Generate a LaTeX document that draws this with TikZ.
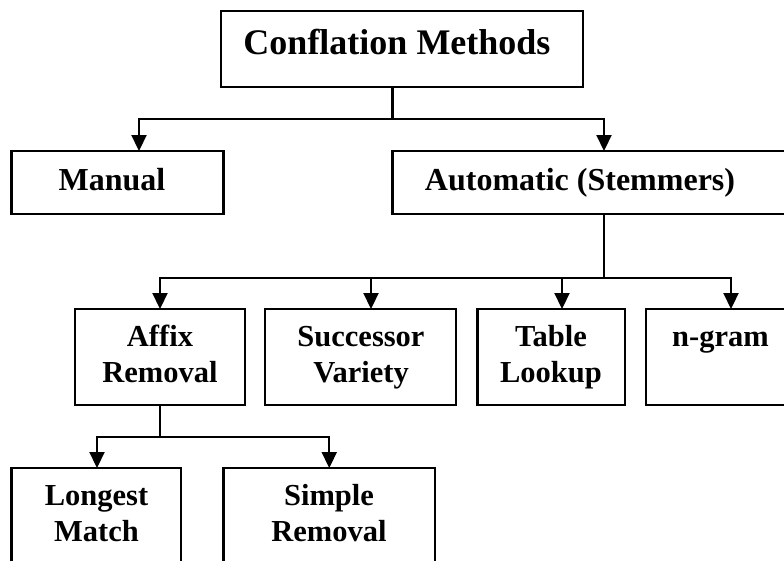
\documentclass[tikz,border=0pt]{standalone}
\usepackage{fontspec}
\setmainfont{Liberation Serif}
\usetikzlibrary{arrows.meta}
\begin{document}
\begin{tikzpicture}[x=1pt,y=-1pt,
  box/.style={draw=black, line width=2.2pt, rectangle, inner sep=0pt, outer sep=0pt, anchor=north west},
  lbl/.style={font=\bfseries\fontsize{30.5}{36}\selectfont, anchor=base, inner sep=0pt, align=center},
  link/.style={line width=2.2pt},
  arr/.style={line width=2.2pt, -{Triangle[length=16pt,width=15pt]}},
]
\useasboundingbox (0,0) rectangle (784,560);
\clip (0,0) rectangle (784,560);
\fill[white] (0,0) rectangle (784,560);

% boxes
\node[box, minimum width=362pt, minimum height=76pt] (top) at (221,11) {};
\node[box, minimum width=212pt, minimum height=63pt] (man) at (11.5,151) {};
\node[box, minimum width=420pt, minimum height=63pt] (auto) at (392.5,151) {};
\node[box, minimum width=170pt, minimum height=96pt] (affix) at (75,309) {};
\node[box, minimum width=191pt, minimum height=96pt] (succ) at (265,309) {};
\node[box, minimum width=147.5pt, minimum height=96pt] (tab) at (477.5,309) {};
\node[box, minimum width=150pt, minimum height=96pt] (ngr) at (646,309) {};
\node[box, minimum width=169.5pt, minimum height=120pt] (long) at (11.5,468) {};
\node[box, minimum width=211.5pt, minimum height=120pt] (simp) at (223.5,468) {};

% labels (base anchor = baseline of the last line)
\node[lbl, font=\bfseries\fontsize{36}{40}\selectfont] (tTop) at (397,54) {Conflation Methods};
\node[lbl, font=\bfseries\fontsize{32}{36}\selectfont] (tMan) at (112,190) {Manual};
\node[lbl, font=\bfseries\fontsize{32}{36}\selectfont] (tAuto) at (580,190) {Automatic (Stemmers)};
\node[lbl] (tAffix) at (160,382.7) {Affix\\Removal};
\node[lbl] (tSucc) at (361,382.7) {Successor\\Variety};
\node[lbl] (tTab) at (551,382.7) {Table\\Lookup};
\node[lbl] (tNgr) at (720.5,346.7) {n-gram};
\node[lbl] (tLong) at (96.5,541.7) {Longest\\Match};
\node[lbl] (tSimp) at (329,541.7) {Simple\\Removal};

% connectors
\draw[link] ([xshift=-9.5pt]top.south) -- ++(0,32) coordinate (j1);
\draw[arr] (j1) -| ([xshift=21.5pt]man.north);
\draw[arr] (j1) -| ([xshift=1.5pt]auto.north);

\draw[link] ([xshift=1.5pt]auto.south) -- ++(0,64) coordinate (j2);
\draw[arr] (j2) -| (affix.north);
\draw[arr] (j2) -| ([xshift=10.5pt]succ.north);
\draw[arr] (j2) -| ([xshift=10.75pt]tab.north);
\draw[arr] (j2) -| ([xshift=10pt]ngr.north);

\draw[link] (affix.south) -- ++(0,32) coordinate (j3);
\draw[arr] (j3) -| ([xshift=0.75pt]long.north);
\draw[arr] (j3) -| (simp.north);
\end{tikzpicture}
\end{document}
